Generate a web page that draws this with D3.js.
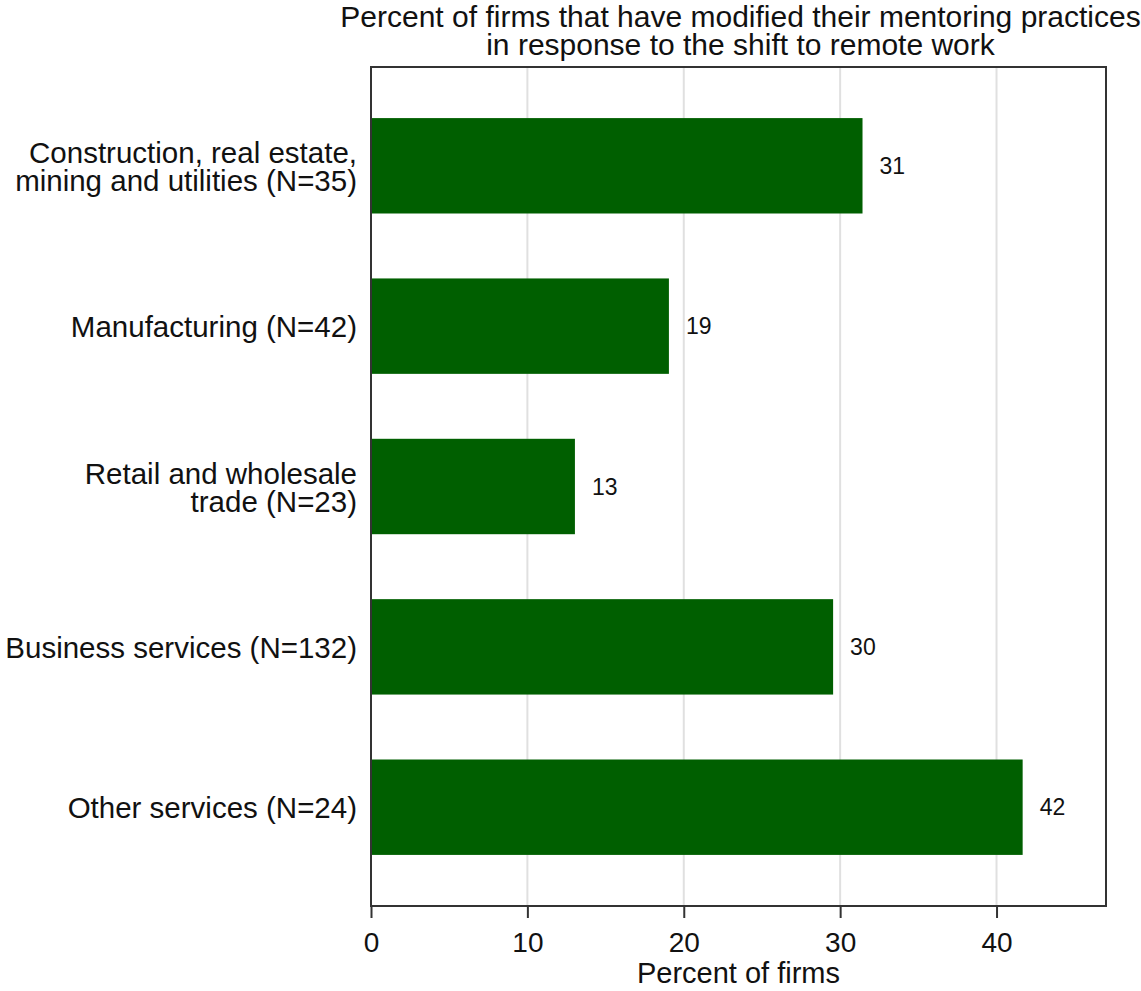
<!DOCTYPE html>
<html>
<head>
<meta charset="utf-8">
<script src="https://cdn.jsdelivr.net/npm/d3@7"></script>
<style>
  body { margin: 0; background: #fff; }
  text { font-family: "Liberation Sans", Arial, sans-serif; }
</style>
</head>
<body>
<svg id="chart"></svg>
<script>
var categories = [
    ["Construction, real estate,", "mining and utilities (N=35)"],
    ["Manufacturing (N=42)"],
    ["Retail and wholesale", "trade (N=23)"],
    ["Business services (N=132)"],
    ["Other services (N=24)"]
];
var values = [31.43, 19.05, 13.04, 29.55, 41.67];
var xTicks = [0, 10, 20, 30, 40];
var titleLines = ["Percent of firms that have modified their mentoring practices",
                  "in response to the shift to remote work"];
var xLabel = "Percent of firms";

var width = 1141, height = 991;
var margin = {top: 67, right: 35, bottom: 85, left: 371};
var svg = d3.select('#chart').attr('width', width).attr('height', height);

var x = d3.scaleLinear().domain([0, 47]).range([margin.left, width - margin.right]);
var y = d3.scaleBand().domain(d3.range(categories.length))
            .range([margin.top + 11, height - margin.bottom - 11])
            .paddingInner(0.405).paddingOuter(0.25);

// gridlines
svg.append('g').selectAll('line')
    .data(xTicks.slice(1))
    .enter().append('line')
        .attr('x1', d => x(d)).attr('x2', d => x(d))
        .attr('y1', margin.top).attr('y2', height - margin.bottom)
        .attr('stroke', '#e0e0e0').attr('stroke-width', 2);

// bars
svg.append('g').selectAll('rect')
    .data(values)
    .enter().append('rect')
        .attr('x', x(0))
        .attr('y', (d, i) => y(i))
        .attr('width', d => x(d) - x(0))
        .attr('height', y.bandwidth())
        .attr('fill', '#005f00');

// value labels
svg.append('g').selectAll('text')
    .data(values)
    .enter().append('text')
        .attr('x', d => x(d) + 17)
        .attr('y', (d, i) => y(i) + y.bandwidth() / 2)
        .attr('dy', '0.36em')
        .attr('font-size', 23)
        .attr('fill', '#111')
        .text(d => Math.round(d));

// frame
svg.append('rect')
    .attr('x', margin.left).attr('y', margin.top)
    .attr('width', width - margin.right - margin.left)
    .attr('height', height - margin.bottom - margin.top)
    .attr('fill', 'none').attr('stroke', '#333').attr('stroke-width', 2);

// x axis
var xAxis = svg.append('g')
    .attr('transform', 'translate(0,' + (height - margin.bottom) + ')')
    .call(d3.axisBottom(x).tickValues(xTicks).tickSize(12).tickPadding(0));
xAxis.select('.domain').remove();
xAxis.selectAll('line').attr('stroke', '#333').attr('stroke-width', 2);
xAxis.selectAll('text')
    .attr('y', 46)
    .attr('dy', null)
    .attr('font-size', 28)
    .attr('fill', '#111');

svg.append('text')
    .attr('x', (margin.left + width - margin.right) / 2)
    .attr('y', 983)
    .attr('text-anchor', 'middle')
    .attr('font-size', 29)
    .attr('fill', '#111')
    .text(xLabel);

// category labels
var lineGap = 0.96;
var catG = svg.append('g').selectAll('text')
    .data(categories)
    .enter().append('text')
        .attr('x', margin.left - 14)
        .attr('y', (d, i) => y(i) + y.bandwidth() / 2)
        .attr('text-anchor', 'end')
        .attr('font-size', 29.5)
        .attr('fill', '#111');
catG.each(function(d) {
    var t = d3.select(this);
    var n = d.length;
    d.forEach((line, j) => {
        t.append('tspan')
            .attr('x', margin.left - 14)
            .attr('dy', j === 0 ? (0.38 - (n - 1) * lineGap / 2) + 'em' : lineGap + 'em')
            .text(line);
    });
});

// title
svg.append('g').selectAll('text')
    .data(titleLines)
    .enter().append('text')
        .attr('x', (margin.left + width - margin.right) / 2 + 2)
        .attr('y', (d, i) => 27 + i * 28)
        .attr('text-anchor', 'middle')
        .attr('font-size', 30)
        .attr('fill', '#111')
        .text(d => d);
</script>
</body>
</html>
